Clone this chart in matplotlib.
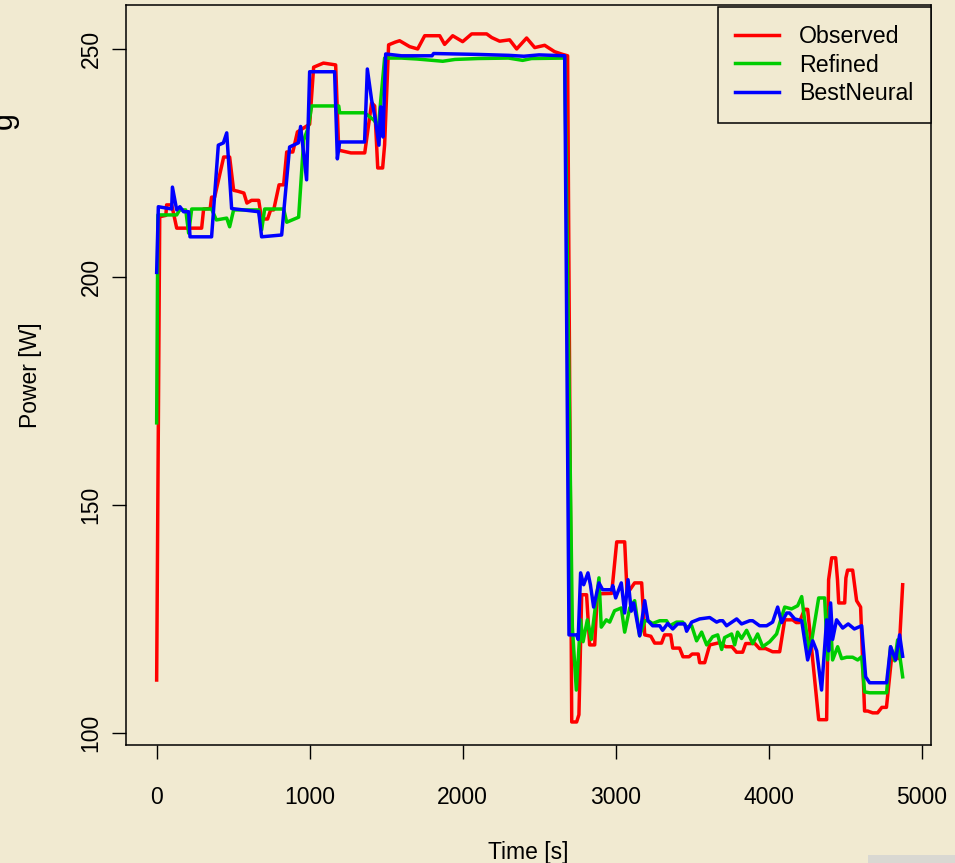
import matplotlib
matplotlib.use("Agg")
import matplotlib.pyplot as plt
from matplotlib.patches import Rectangle

# 观测功率
obs_t = [0, 20, 60, 65, 98, 110, 131, 294, 307, 350, 359, 379, 438, 477, 503, 530, 570, 590, 620, 667,
         686, 725, 745, 765, 800, 830, 850, 890, 920, 1000, 1026, 1090, 1170, 1190, 1270, 1360, 1405, 1425,
         1445, 1477, 1490, 1516, 1560, 1588, 1654, 1706, 1752, 1850, 1882, 1935, 2000, 2059, 2157, 2190,
         2242, 2307, 2353, 2418, 2471, 2536, 2601, 2654, 2686, 2713, 2745, 2760, 2778, 2810, 2830, 2863,
         2880, 2974, 3007, 3059, 3075, 3124, 3170, 3190, 3230, 3255, 3300, 3320, 3360, 3373, 3418, 3440,
         3480, 3500, 3540, 3549, 3582, 3615, 3680, 3720, 3760, 3790, 3830, 3850, 3910, 3940, 3980, 4026,
         4072, 4105, 4157, 4180, 4200, 4235, 4255, 4327, 4379, 4392, 4412, 4438, 4450, 4458, 4497, 4505,
         4516, 4549, 4575, 4601, 4627, 4647, 4680, 4712, 4740, 4770, 4804, 4824, 4850, 4876]
obs_p = [111.6, 213.2, 213.5, 215.8, 215.8, 214, 210.7, 210.7, 214.9, 215, 217.5, 217.5, 226.3, 226.3, 219,
         218.8, 218.4, 216.2, 216.8, 216.8, 212.7, 212.7, 214.7, 214.7, 220.2, 220.2, 227.4, 227.4, 231.8,
         233.5, 246, 246.9, 246.5, 227.8, 227.2, 227.2, 238.2, 237.5, 223.9, 223.9, 229, 250.9, 251.5,
         251.8, 250.5, 250, 252.9, 252.9, 251, 252.9, 251.6, 253.3, 253.3, 252.5, 251.7, 252, 250, 252.4,
         250.3, 250.8, 249.4, 248.8, 248.5, 102.4, 102.4, 104, 130.3, 130.3, 119.3, 119.3, 130.5, 130.6,
         141.9, 141.9, 130.5, 132.9, 132.9, 121.5, 121.2, 119.7, 119.7, 121.5, 121.5, 118.6, 118.6, 116.7,
         116.7, 117.3, 117.3, 115.4, 115.4, 119.3, 119.8, 118.9, 118.9, 117.7, 117.7, 119.6, 119.6, 118.5,
         118.5, 117.8, 117.8, 124.8, 124.8, 124.2, 124.2, 127.1, 127.1, 102.9, 102.9, 133.6, 138.4, 138.4,
         133.6, 128.5, 128.5, 134, 135.7, 135.7, 129, 127.6, 104.8, 104.8, 104.4, 104.4, 105.6, 105.6,
         116.7, 116.7, 116.3, 132.5]

# 修正模型
ref_t = [0, 8, 131, 150, 190, 209, 229, 359, 390, 458, 477, 503, 667, 686, 706, 830, 850, 928, 961, 990,
         1013, 1190, 1196, 1359, 1420, 1450, 1460, 1490, 1600, 1700, 1870, 1950, 2100, 2300, 2392, 2450,
         2667, 2717, 2743, 2771, 2787, 2815, 2841, 2891, 2906, 2939, 2961, 2993, 3037, 3059, 3092, 3124,
         3157, 3190, 3211, 3242, 3288, 3333, 3353, 3398, 3438, 3464, 3497, 3529, 3562, 3595, 3634, 3667,
         3693, 3712, 3758, 3778, 3797, 3823, 3856, 3896, 3928, 3961, 4007, 4052, 4072, 4105, 4150, 4190,
         4216, 4235, 4268, 4327, 4366, 4386, 4399, 4418, 4451, 4477, 4510, 4549, 4582, 4608, 4627, 4660,
         4771, 4797, 4824, 4843, 4876]
ref_p = [168, 213.6, 213.6, 214.7, 214.7, 209.6, 214.9, 214.9, 212.5, 212.9, 211, 214.7, 214.7, 210.3,
         214.9, 214.9, 212, 213.1, 230, 232.7, 237.5, 237.5, 236, 236, 234.4, 233, 237, 248, 248, 247.8,
         247.3, 247.7, 247.9, 248, 247.5, 247.9, 248, 123.2, 109.4, 124.8, 120, 124.8, 120.5, 134, 123.2,
         124.8, 124.3, 126.8, 127.4, 122.1, 127.4, 129, 121.3, 124.6, 124.6, 124, 124.6, 124.6, 123.5,
         124.3, 124.3, 123.2, 123.5, 120.2, 122.1, 119.3, 121.1, 121.5, 118.3, 120.9, 121.7, 119.3, 122.1,
         120.7, 122.5, 119.6, 121.7, 118.9, 120, 121.7, 124, 127.6, 127.2, 127.9, 129.9, 124.8, 117.5,
         129.6, 129.6, 116, 127.6, 116, 118.9, 116.3, 116.6, 116.6, 116, 116.7, 109, 108.8, 108.8, 118.9,
         115.8, 120.4, 112.3]

# 最优神经网络
nn_t = [0, 11, 98, 103, 131, 152, 176, 209, 218, 359, 403, 436, 458, 490, 667, 686, 817, 869, 926, 941,
        980, 1000, 1163, 1181, 1196, 1359, 1377, 1405, 1427, 1453, 1464, 1479, 1497, 1600, 1800, 1810, 2100,
        2300, 2400, 2500, 2667, 2695, 2745, 2755, 2771, 2791, 2819, 2835, 2856, 2891, 2915, 2974, 2981,
        3000, 3037, 3059, 3081, 3102, 3118, 3157, 3190, 3211, 3242, 3288, 3307, 3340, 3373, 3405, 3451,
        3464, 3497, 3549, 3615, 3660, 3680, 3700, 3725, 3791, 3823, 3876, 3896, 3941, 3987, 4026, 4059,
        4085, 4118, 4137, 4170, 4216, 4255, 4288, 4314, 4346, 4379, 4392, 4405, 4418, 4444, 4484, 4520,
        4560, 4608, 4634, 4660, 4771, 4797, 4830, 4856, 4876]
nn_p = [201, 215.4, 214.9, 219.7, 214.7, 215.4, 214.3, 214.3, 208.8, 208.8, 228.9, 229.4, 231.6, 215,
        214.3, 208.8, 209.2, 228.5, 229.4, 233, 221.3, 245, 245, 225.9, 229.6, 229.6, 245.6, 238.8, 235,
        228.9, 237.3, 230.7, 248.9, 248.5, 248.5, 249, 248.8, 248.6, 248.4, 248.7, 248.5, 121.5, 121.5,
        120.5, 135.1, 132.5, 135.1, 132.5, 127.6, 132.9, 131.4, 131.4, 132.3, 129.6, 132.9, 126.3, 133.6,
        126.7, 128.5, 121.3, 129, 124.6, 123.5, 123.5, 122.5, 124, 122.8, 123.9, 123.9, 122.3, 124.3, 125,
        125.3, 124.3, 124.6, 124.6, 123.5, 125, 123.9, 124.6, 124.6, 123.5, 123.5, 124.3, 127.6, 124.2,
        126.3, 126.3, 125, 124.6, 116, 120.2, 118, 109.4, 124.8, 118, 128.5, 120.5, 124.8, 123, 123.9,
        122.8, 123.5, 112.3, 111, 111, 118.9, 116, 121.5, 116.8]

labels = ["Observed", "Refined", "BestNeural"]
colors = ["#FF0000", "#00CD00", "#0000FF"]
xticks = [0, 1000, 2000, 3000, 4000, 5000]
yticks = [100, 150, 200, 250]

bg = "#F1EAD1"
fs = 16.5
plt.rcParams['font.family'] = ['Liberation Sans', 'DejaVu Sans']

fig = plt.figure(figsize=(9.55, 8.63), dpi=100, facecolor=bg)
ax = fig.add_axes([0.132, 0.137, 0.843, 0.857])
ax.set_facecolor(bg)

series = [(obs_t, obs_p), (ref_t, ref_p), (nn_t, nn_p)]
for (t, p), lab, c in zip(series, labels, colors):
    ax.plot(t, p, color=c, lw=2.5, label=lab, solid_joinstyle='round')

ax.set_xlim(-200, 5062)
ax.set_ylim(97.4, 259.6)
ax.set_xticks(xticks)
ax.set_yticks(yticks)
ax.set_yticklabels([str(v) for v in yticks], rotation=90, va='center')
ax.tick_params(axis='both', labelsize=fs, length=10, width=1)
ax.tick_params(axis='x', pad=20)
ax.tick_params(axis='y', pad=7)
for s in ax.spines.values():
    s.set_linewidth(1.1)

ax.set_xlabel("Time [s]", fontsize=fs, labelpad=23)
ax.set_ylabel("Power [W]", fontsize=fs, labelpad=27)

leg = ax.legend(loc='upper right', bbox_to_anchor=(1.0, 0.997), borderaxespad=0.0, fontsize=16.7,
                frameon=True, fancybox=False, edgecolor='black', facecolor=bg, framealpha=1,
                handlelength=1.9, handletextpad=0.86, labelspacing=0.24, borderpad=0.76)
leg.get_frame().set_linewidth(1.1)
for h in leg.get_lines():
    h.set_linewidth(2.5)

# 左侧被截断的字符和右下角灰块
fig.text(0.004, 0.86, "g", rotation=90, fontsize=22, ha='center', va='center')
fig.patches.append(Rectangle((0.909, 0.0), 0.091, 0.009, transform=fig.transFigure,
                             facecolor='#D9D8D2', edgecolor='none'))

fig.savefig("out.png", dpi=100, facecolor=bg)
